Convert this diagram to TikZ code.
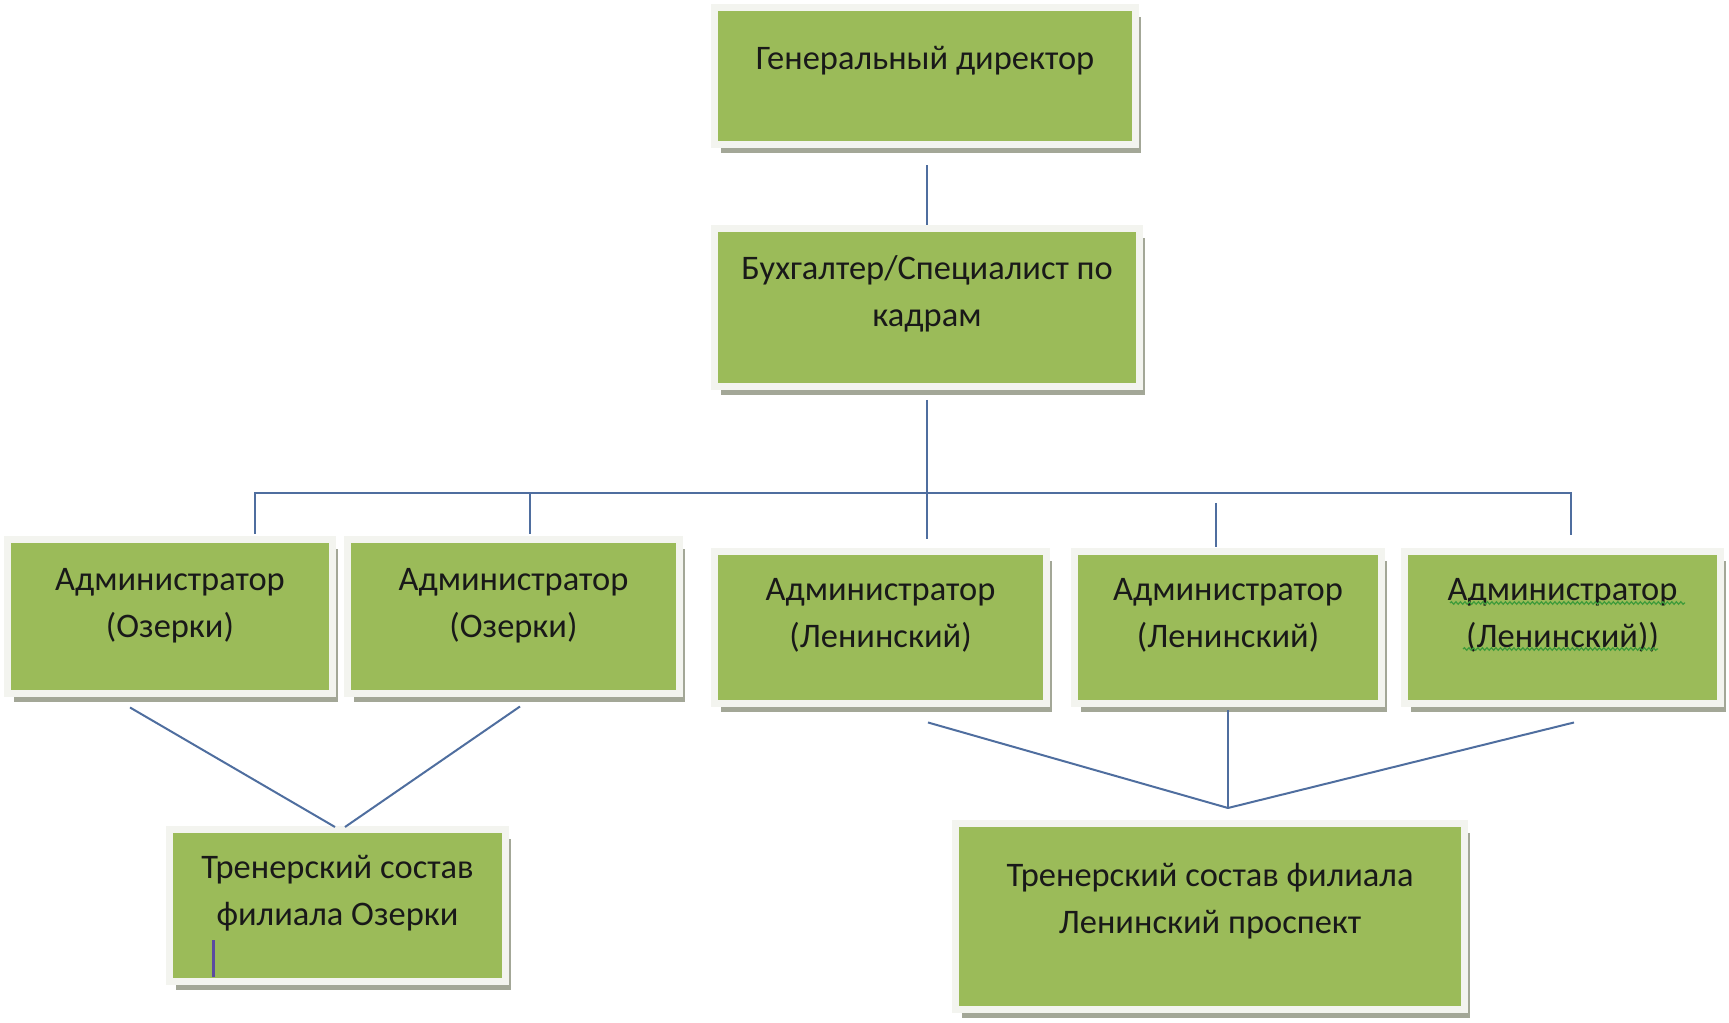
\documentclass[tikz,border=0pt]{standalone}
\usepackage{fontspec}
\setmainfont{Carlito}
\usetikzlibrary{shadows,decorations.pathmorphing}

\definecolor{boxgreen}{HTML}{9BBB59}
\definecolor{boxframe}{HTML}{F3F4EF}
\definecolor{boxshadow}{HTML}{A3A797}
\definecolor{linkblue}{HTML}{4F6E9F}
\definecolor{cursorviolet}{HTML}{5B4BA0}
\definecolor{spellgreen}{HTML}{3E9B3A}

\tikzset{
  orgbox/.style={rectangle, fill=boxgreen, draw=boxframe, line width=0.14cm,
    drop shadow={shadow xshift=0.12cm, shadow yshift=-0.18cm, fill=boxshadow, opacity=1}},
  txt/.style={align=center, text=black!90, font=\fontsize{19.6}{26.7}\selectfont},
  link/.style={draw=linkblue, line width=0.04cm},
  squig/.style={draw=spellgreen, line width=0.025cm, decorate,
    decoration={snake, segment length=0.09cm, amplitude=0.025cm}}
}

\begin{document}
\begin{tikzpicture}[x=0.02cm, y=-0.02cm]
\useasboundingbox (0,0) rectangle (1729,1023);

% boxes
\node[orgbox, minimum width=8.42cm, minimum height=2.74cm] (gd) at (925,76) {};
\node[orgbox, minimum width=8.50cm, minimum height=3.16cm] (buh) at (927,307.5) {};
\node[orgbox, minimum width=6.50cm, minimum height=3.08cm] (a1) at (170,616.5) {};
\node[orgbox, minimum width=6.64cm, minimum height=3.08cm] (a2) at (513.5,616.5) {};
\node[orgbox, minimum width=6.64cm, minimum height=3.04cm] (a3) at (880.5,627.5) {};
\node[orgbox, minimum width=6.14cm, minimum height=3.04cm] (a4) at (1228,627.5) {};
\node[orgbox, minimum width=6.32cm, minimum height=3.04cm] (a5) at (1562.5,627.5) {};
\node[orgbox, minimum width=6.72cm, minimum height=3.04cm] (tr1) at (337.5,905.5) {};
\node[orgbox, minimum width=10.18cm, minimum height=3.72cm] (tr2) at (1210,916.5) {};

% texts
\node[txt] (gd-t) at (925,60.5) {Генеральный директор};
\node[txt] (buh-t) at (927,294) {Бухгалтер/Специалист по\\кадрам};
\node[txt] (a1-t) at (170,605.5) {Администратор\\(Озерки)};
\node[txt] (a2-t) at (513.5,605.5) {Администратор\\(Озерки)};
\node[txt] (a3-t) at (880.5,615.5) {Администратор\\(Ленинский)};
\node[txt] (a4-t) at (1228,615.5) {Администратор\\(Ленинский)};
\node[txt] (a5-t) at (1562.5,615.5) {Администратор\\(Ленинский))};
\node[txt] (tr1-t) at (337.5,893) {Тренерский состав\\филиала Озерки};
\node[txt] (tr2-t) at (1210,901) {Тренерский состав филиала\\Ленинский проспект};

% connectors
\coordinate (busL) at (255,493);
\coordinate (bus2) at (530,493);
\coordinate (bus4) at (1216,503);
\coordinate (busR) at (1571,493);
\coordinate (apexL) at (340,827);
\coordinate (apexR) at (1228,808);

\draw[link, shorten <=0.35cm] (gd.south -| buh.north) -- (buh.north);
\draw[link, shorten <=0.2cm, shorten >=0.19cm] (buh.south) -- (buh.south |- a3.north);
\draw[link, shorten <=0.05cm, shorten >=0.27cm] (busL |- a1.north) -- (busL) -- (busR) -- (busR |- a5.north);
\draw[link, shorten >=0.05cm] (bus2) -- (bus2 |- a2.north);
\draw[link, shorten >=0.03cm] (bus4) -- (bus4 |- a4.north);

\draw[link] ([xshift=-0.8cm, yshift=-0.21cm]a1.south) -- ([xshift=-0.1cm]apexL);
\draw[link] ([xshift=0.13cm, yshift=-0.19cm]a2.south) -- ([xshift=0.1cm]apexL);
\draw[link] ([xshift=0.95cm, yshift=-0.31cm]a3.south) -- (apexR);
\draw[link] ([yshift=-0.07cm]a4.south) -- (apexR);
\draw[link] ([xshift=0.23cm, yshift=-0.31cm]a5.south) -- (apexR);

% cursor and spelling marks
\draw[cursorviolet, line width=0.06cm] (213,940) -- (213,977);
\draw[squig] (1450,603) -- (1685,603);
\draw[squig] (1463,649) -- (1658,649);
\end{tikzpicture}
\end{document}
